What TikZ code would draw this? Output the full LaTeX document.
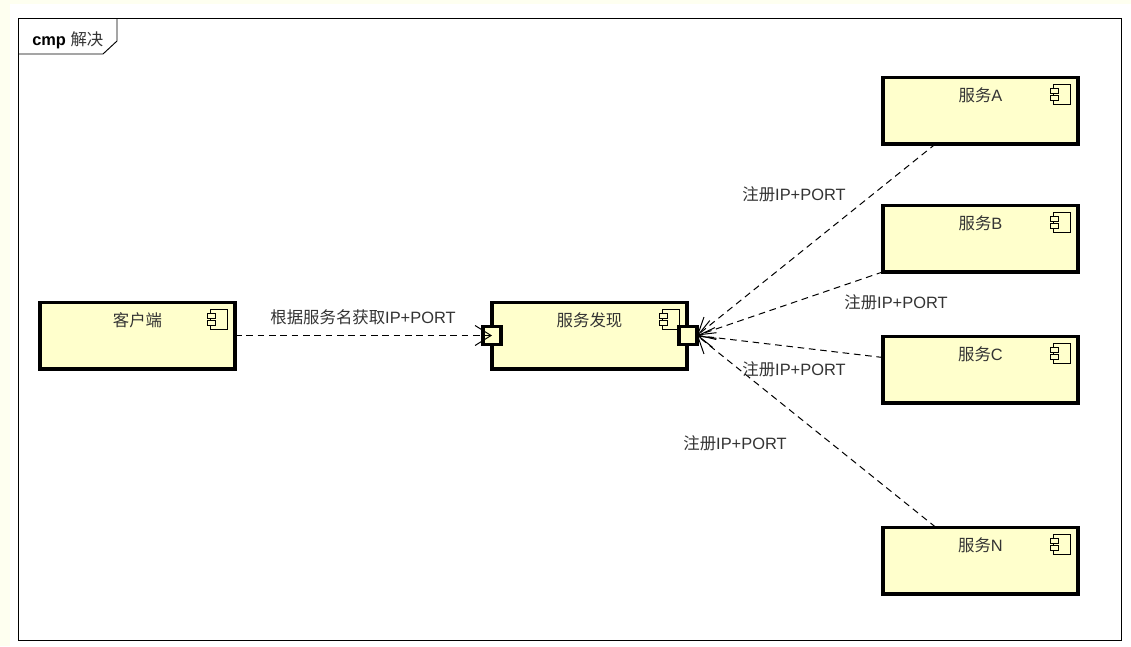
\documentclass[tikz,border=0pt]{standalone}
\usepackage{fontspec}
\setmainfont{Liberation Sans}
\newfontfamily\cjkfont{Noto Sans CJK SC}
\usepackage{xcolor}
\usetikzlibrary{arrows.meta,calc}
\definecolor{compyellow}{HTML}{FFFFCC}
\definecolor{pagecream}{HTML}{FEFFF0}
\definecolor{labelgrey}{HTML}{333333}
\newcommand{\zh}[1]{{\cjkfont #1}}
\newcommand{\compicon}[1]{%
  \begin{scope}[shift={(#1.north east)}]
    \draw[iconline] (-25,7) rectangle (-8,27);
    \draw[iconline, fill=compyellow] (-28,11) rectangle (-20,16);
    \draw[iconline, fill=compyellow] (-28,18) rectangle (-20,23);
  \end{scope}}

\begin{document}
\begin{tikzpicture}[
    x=0.75pt, y=-0.75pt,
    comp/.style={draw, line width=2.5pt, fill=compyellow, minimum width=146.25pt,
                 minimum height=50pt, inner sep=0pt, outer sep=0pt},
    compname/.style={anchor=center, yshift=-13.5pt, inner sep=0pt, font=\fontsize{12.3}{14}\selectfont,
                 text=labelgrey},
    port/.style={draw, line width=2.5pt, fill=compyellow, minimum size=13.5pt,
                 inner sep=0pt, outer sep=0pt},
    iconline/.style={draw, line width=0.6pt},
    link/.style={dashed, dash pattern=on 5pt off 3.5pt, line width=0.75pt,
                 -{Straight Barb[length=12pt,width=15pt]}},
    linklabel/.style={font=\fontsize{12.3}{14}\selectfont, text=labelgrey, inner sep=0pt},
]
\useasboundingbox (0,0) rectangle (1131,646);
\fill[pagecream] (0,0) rectangle (1131,646);
\fill[white] (10,4) rectangle (1131,646);

\draw[line width=0.7pt, fill=white] (18,18) rectangle (1121,640);
\draw[line width=0.7pt] (18,54) -- (103,54) -- (117,41) -- (117,18);
\node[inner sep=0pt, font=\fontsize{12.3}{14}\selectfont, anchor=base west] (frametitle) at (32,45)
    {\textbf{cmp} \textcolor{labelgrey}{\zh{解决}}};

\node[comp, label={[compname]north:\zh{客户端}}] (client) at (137.5,335.5) {};
\node[comp, label={[compname]north:\zh{服务发现}}] (discovery) at (589.5,335.5) {};
\node[comp, label={[compname]north:\zh{服务}A}] (srvA) at (980.5,110.5) {};
\node[comp, label={[compname]north:\zh{服务}B}] (srvB) at (980.5,238.5) {};
\node[comp, label={[compname]north:\zh{服务}C}] (srvC) at (980.5,369.5) {};
\node[comp, label={[compname]north:\zh{服务}N}] (srvN) at (980.5,560.5) {};

\compicon{client}
\compicon{discovery}
\compicon{srvA}
\compicon{srvB}
\compicon{srvC}
\compicon{srvN}

\node[port] (portin) at (492,335.5) {};
\node[port] (portout) at (688,335.5) {};

\coordinate (startA) at ($(srvA.south west)!0.27!(srvA.south east)$);
\coordinate (startB) at (srvB.south west);
\coordinate (startC) at ($(srvC.north west)!0.32!(srvC.south west)$);
\coordinate (startN) at ($(srvN.north west)!0.27!(srvN.north east)$);

\draw[link] (client.east |- portin) -- (portin.center);
\draw[link] (startA) -- (portout.east);
\draw[link] (startB) -- (portout.east);
\draw[link] (startC) -- (portout.east);
\draw[link] (startN) -- (portout.east);

\node[linklabel] (lblclient) at (363,317) {\zh{根据服务名获取}IP+PORT};
\node[linklabel] (lblA) at (794,194) {\zh{注册}IP+PORT};
\node[linklabel] (lblB) at (896,302) {\zh{注册}IP+PORT};
\node[linklabel] (lblC) at (794,369) {\zh{注册}IP+PORT};
\node[linklabel] (lblN) at (735,443) {\zh{注册}IP+PORT};
\end{tikzpicture}
\end{document}
